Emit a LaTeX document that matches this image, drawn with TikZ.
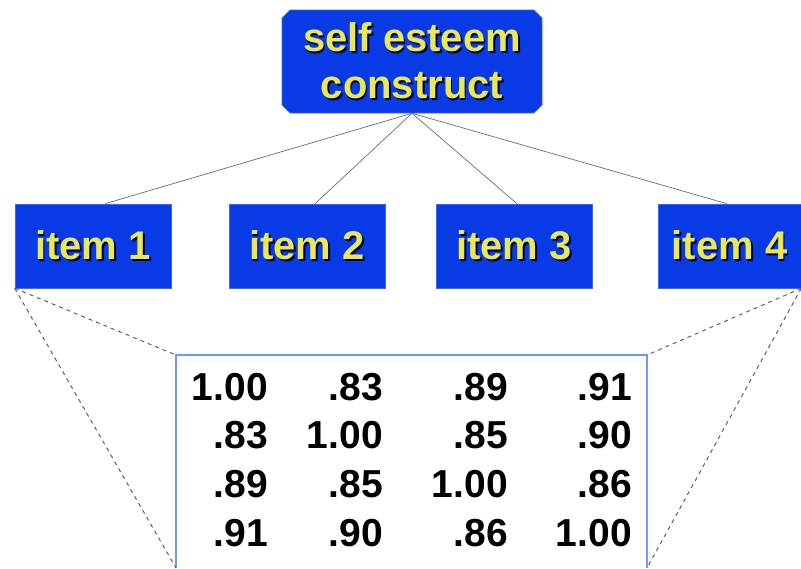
\documentclass[tikz,border=0pt]{standalone}
\usepackage{fontspec}
\setmainfont{Liberation Sans}
\usetikzlibrary{shapes.misc,calc}
\definecolor{boxblue}{RGB}{8,58,230}
\definecolor{txtyellow}{RGB}{232,232,88}
\definecolor{frameblue}{RGB}{110,150,255}
\newcommand\shtext[1]{\makebox[0pt][l]{\hspace{1.8pt}\raisebox{-1.8pt}{\color{black!85!blue}#1}}#1}
\begin{document}
\begin{tikzpicture}[x=1pt,y=-1pt,
 bluebox/.style={fill=boxblue, draw=frameblue!50!boxblue, line width=0.6pt, text=txtyellow,
   font=\fontsize{40}{47}\selectfont\bfseries, inner sep=0pt, align=center},
 itembox/.style={bluebox, minimum width=156pt, minimum height=84pt},
 link/.style={draw=gray!85!black, line width=0.7pt},
 zoomline/.style={draw=gray!75!black, line width=1pt, dash pattern=on 4pt off 4pt},
 frameline/.style={draw=frameblue, line width=1.3pt},
 cell/.style={anchor=base east, font=\fontsize{39}{39}\selectfont\bfseries, inner sep=0pt}]
\useasboundingbox (0,0) rectangle (801,568);
\node[bluebox, chamfered rectangle, chamfered rectangle xsep=4pt, chamfered rectangle ysep=4pt,
  minimum width=260pt, minimum height=103pt] (top) at (412,61.5) {\shtext{self esteem}\\\shtext{construct}};
\node[itembox] (i1) at (93,246) {\shtext{item 1}};
\node[itembox] (i2) at (307,246) {\shtext{item 2}};
\node[itembox] (i3) at (514,246) {\shtext{item 3}};
\node[bluebox, minimum width=143pt, minimum height=84pt] (i4) at (729.5,246) {\shtext{item 4}};
\draw[link] (top.south) -- ($(i1.north)+(12,0)$);
\draw[link] (top.south) -- ($(i2.north)+(8,0)$);
\draw[link] (top.south) -- ($(i3.north)+(3,0)$);
\draw[link] (top.south) -- ($(i4.north)+(-2.5,0)$);
\coordinate (mtl) at (176,355);
\coordinate (mtr) at (647,355);
\coordinate (mbl) at (176,568);
\coordinate (mbr) at (647,568);
\draw[frameline] (mbl) -- (mtl) -- (mtr) -- (mbr);
\draw[zoomline] (i1.south west) -- (mtl);
\draw[zoomline] (i1.south west) -- (mbl);
\draw[zoomline] (i4.south east) -- (mtr);
\draw[zoomline] (i4.south east) -- (mbr);
\foreach \row/\y/\a/\b/\c/\d in {1/400/1.00/.83/.89/.91, 2/448.7/.83/1.00/.85/.90, 3/497.3/.89/.85/1.00/.86, 4/546/.91/.90/.86/1.00}{
  \node[cell] (m\row a) at (268,\y) {\a};
  \node[cell] (m\row b) at (383,\y) {\b};
  \node[cell] (m\row c) at (508,\y) {\c};
  \node[cell] (m\row d) at (632,\y) {\d};
}
\end{tikzpicture}
\end{document}
